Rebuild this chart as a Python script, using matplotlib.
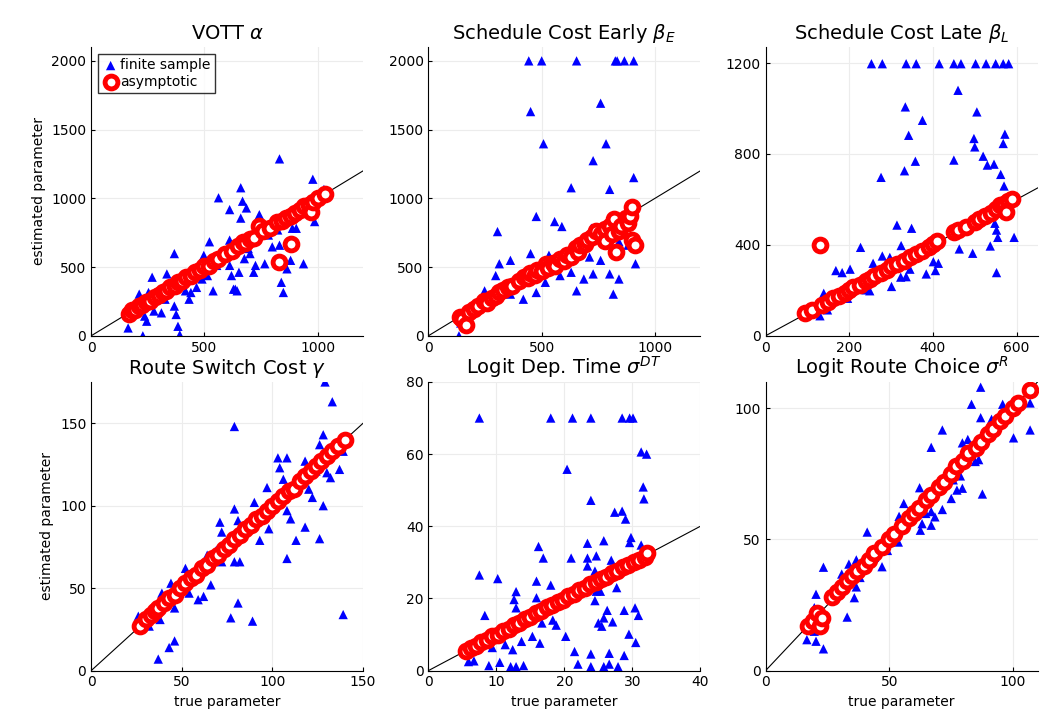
import numpy as np
import matplotlib.pyplot as plt

# ---- VOTT alpha ----
a_fx = [163, 228, 212, 269, 253, 236, 245, 277, 310, 334, 326, 367, 367, 375, 383, 391, 416, 432, 440, 465,
        489, 497, 513, 522, 538, 554, 562, 611, 611, 611, 619, 628, 636, 644, 652, 660, 660, 668, 676, 685,
        693, 701, 717, 725, 742, 750, 766, 782, 799, 823, 831, 831, 839, 848, 864, 880, 888, 905, 929, 937,
        962, 978, 986, 1027]
a_fy = [57, 0, 303, 426, 315, 143, 106, 180, 167, 450, 266, 598, 216, 155, 69, 7, 327, 266, 315, 352,
        413, 585, 438, 684, 327, 512, 1004, 512, 696, 918, 438, 339, 339, 327, 462, 1077, 856, 979, 561, 930,
        635, 598, 462, 512, 881, 807, 524, 733, 647, 770, 1287, 659, 389, 315, 487, 549, 782, 782, 905, 524,
        893, 1139, 831, 1065]
a_ax = [165, 180, 195, 210, 225, 240, 260, 280, 300, 315, 330, 350, 370, 385, 400, 420, 440, 460, 480, 500,
        520, 540, 560, 590, 620, 650, 668, 680, 700, 720, 742, 760, 790, 820, 830, 840, 860, 880, 880, 900,
        920, 940, 960, 970, 980, 1000, 1030]
a_ay = [160, 185, 190, 215, 225, 245, 255, 285, 295, 320, 325, 355, 365, 390, 395, 425, 435, 465, 475, 505,
        510, 545, 555, 595, 615, 655, 684, 675, 705, 715, 800, 765, 785, 825, 540, 835, 855, 870, 670, 895,
        915, 945, 950, 900, 975, 1000, 1030]

# ---- Schedule cost early beta_E ----
e_fx = [135, 143, 248, 297, 305, 313, 362, 362, 419, 443, 451, 451, 459, 476, 476, 500, 508, 516, 532, 557,
        581, 589, 613, 630, 630, 654, 654, 686, 711, 719, 727, 727, 760, 760, 784, 800, 800, 816, 825, 841,
        841, 865, 881, 906, 906, 914, 906, 833]
e_fy = [0, 93, 327, 438, 758, 524, 549, 303, 266, 2000, 1631, 598, 413, 315, 868, 2000, 1397, 389, 586, 831,
        438, 795, 549, 1077, 462, 2000, 327, 413, 573, 782, 1274, 450, 1692, 549, 1397, 1065, 450, 303, 2000, 413,
        684, 2000, 659, 2000, 1151, 524, 893, 2000]
e_ax = [140, 150, 165, 180, 200, 220, 245, 260, 280, 300, 310, 330, 350, 370, 400, 420, 440, 450, 470, 480,
        500, 520, 530, 550, 560, 580, 600, 610, 630, 650, 660, 670, 690, 700, 720, 740, 760, 780, 780, 800,
        810, 820, 830, 840, 850, 870, 880, 890, 900, 900, 910]
e_ay = [140, 120, 80, 170, 195, 215, 250, 240, 275, 290, 320, 330, 355, 365, 395, 430, 420, 455, 440, 480,
        470, 520, 490, 530, 505, 560, 545, 590, 570, 640, 610, 660, 670, 700, 720, 760, 740, 780, 690, 800,
        740, 850, 610, 760, 800, 860, 820, 870, 940, 700, 660]

# ---- Schedule cost late beta_L ----
l_fx = [253, 279, 336, 360, 415, 450, 467, 502, 527, 550, 568, 581, 460, 334, 505, 375, 342, 498, 572, 568,
        500, 520, 358, 450, 530, 546, 332, 276, 562, 570, 314, 349, 548, 552, 555, 594, 227, 324, 537, 463,
        495, 279, 297, 257, 401, 413, 168, 183, 202, 345, 406, 552, 336, 384, 323, 276, 301, 240, 249, 196,
        139, 148, 130, 100, 104]
l_fy = [1197, 1197, 1197, 1197, 1197, 1197, 1197, 1197, 1197, 1197, 1197, 1197, 1080, 1007, 985, 948, 882, 868, 887, 846,
        831, 790, 768, 773, 751, 755, 726, 697, 710, 659, 487, 473, 495, 465, 433, 433, 389, 397, 395, 382,
        363, 351, 345, 319, 326, 319, 287, 278, 293, 293, 287, 278, 260, 272, 258, 263, 217, 202, 198, 165,
        187, 114, 88, 121, 100]
l_ax = [95, 110, 130, 135, 150, 160, 175, 190, 200, 210, 225, 240, 250, 260, 275, 290, 300, 315, 330, 345,
        360, 375, 390, 400, 410, 450, 460, 480, 500, 510, 525, 540, 550, 560, 570, 580, 590, 575]
l_ay = [100, 115, 400, 135, 150, 165, 175, 190, 200, 215, 225, 240, 250, 265, 275, 290, 305, 315, 330, 345,
        360, 375, 390, 405, 415, 455, 465, 480, 500, 515, 525, 540, 560, 575, 580, 595, 600, 545]

# ---- Route switch cost gamma ----
g_fx = [26, 32, 37, 38, 39, 43, 44, 46, 46, 52, 54, 56, 59, 62, 64, 66, 69, 71, 72, 72,
        77, 79, 79, 79, 81, 82, 81, 89, 90, 93, 97, 98, 103, 104, 106, 108, 108, 108, 110, 113,
        118, 118, 120, 122, 126, 126, 128, 128, 129, 130, 132, 133, 137, 139, 139, 124]
g_fy = [33, 27, 7, 31, 47, 14, 53, 18, 38, 62, 47, 58, 43, 45, 70, 52, 73, 90, 84, 66,
        32, 148, 98, 66, 91, 66, 41, 30, 102, 79, 111, 86, 129, 123, 116, 129, 97, 68, 92, 79,
        127, 87, 110, 105, 137, 80, 143, 100, 175, 120, 117, 163, 122, 133, 34, 121]
g_ax = [27, 30, 33, 35, 37, 40, 43, 46, 49, 52, 55, 58, 61, 64, 67, 70, 73, 76, 79, 82,
        85, 88, 91, 94, 97, 100, 103, 106, 109, 112, 115, 118, 121, 124, 127, 130, 133, 136, 140]
g_ay = [27, 31, 34, 36, 38, 41, 44, 46, 50, 53, 56, 58, 62, 64, 68, 70, 74, 76, 80, 82,
        86, 88, 92, 94, 97, 100, 103, 106, 109, 110, 115, 118, 121, 124, 127, 130, 133, 136, 140]

# ---- Logit dep. time sigma^DT ----
d_fx = [7.5, 18, 21.2, 23.9, 28.5, 29.6, 30.1, 31.3, 32.1, 20.4, 31.6, 31.7, 23.9, 27.4, 28.5, 29, 23.4, 25.8, 29.8, 29.6,
        31.3, 16.2, 16.9, 21, 23.4, 24.7, 23.4, 24.5, 26.9, 7.5, 10.2, 15.9, 18, 12.9, 15.9, 12.6, 24.7, 25.3, 27.7, 24.5,
        12.9, 8.3, 26.3, 28.8, 30.4, 30.9, 25.8, 25, 27.1, 25.5, 18.3, 18.8, 16.7, 20.2, 15.3, 16.4, 13.7, 11.3, 12.4, 9.4,
        7, 5.9, 6.7, 8.9, 10.5, 12.1, 12.9, 14, 21.5, 22, 23.9, 23.9, 25.8, 26.6, 26.6, 27.9, 28.8, 29.5, 30.5]
d_fy = [70, 70, 70, 70, 70, 70, 70, 60.6, 60, 55.8, 50.9, 47.6, 47.2, 43.9, 44.2, 42, 35.3, 36, 36.9, 35.5,
        34.8, 34.4, 31.2, 31.2, 31.2, 31.8, 29, 27.6, 30.6, 26.5, 25.5, 24.8, 23.7, 21.9, 20.2, 19.7, 22, 22, 23, 19.4,
        17.4, 15.3, 16.7, 16.7, 17.4, 15.3, 14.6, 13.2, 13.5, 12.3, 14, 12.6, 13.2, 9.5, 9.5, 7.6, 8.1, 7.2, 5.8, 6.4,
        8.1, 2.5, 2.7, 1.4, 2.3, 1.1, 1.1, 1.4, 5.3, 1.8, 4.6, 1.1, 1.1, 4.8, 1.8, 1.1, 4.2, 10.1, 7.8]
d_ax = [5.5, 6.2, 7, 7.8, 8.6, 9.4, 10.2, 11, 11.8, 12.6, 13.4, 14.2, 15, 15.8, 16.6, 17.4, 18.2, 19, 19.8, 20.6,
        21.4, 22.2, 23, 23.8, 24.6, 25.4, 26.2, 27, 27.8, 28.6, 29.4, 30.2, 31, 31.8, 32.2]
d_ay = [5.5, 6.4, 6.8, 7.9, 8.4, 9.5, 10.0, 11.1, 11.6, 12.7, 13.3, 14.3, 14.9, 15.9, 16.5, 17.5, 18.1, 19.1, 19.7, 20.8,
        21.3, 22.3, 22.8, 23.9, 24.5, 25.5, 26.0, 27.0, 27.7, 28.7, 29.2, 30.2, 30.7, 31.6, 32.5]

# ---- Logit route choice sigma^R ----
r_fx = [16.7, 20.4, 23.4, 19.7, 19.7, 20.4, 23.4, 33, 30.8, 33.7, 36.7, 36.7, 35.9, 38.2, 41.1, 44.1, 47.1, 49.3, 53.7, 54,
        55.9, 62.3, 63.3, 64.8, 67, 67, 68.5, 71.5, 75.1, 77.4, 79.6, 87.7, 71.5, 67, 79.6, 81.8, 84.8, 86.2, 83.3, 87,
        87, 91.4, 95.9, 100.3, 107, 107, 78.8, 75.9, 62.6]
r_fy = [11.8, 11.2, 8.3, 15, 24, 29.1, 39.4, 20.4, 36.8, 40.6, 42.2, 31.9, 27.8, 35.5, 52.8, 43.2, 39.6, 45.8, 49, 58.8,
        63.7, 69.7, 56, 59.9, 55.4, 60.6, 58.6, 61.4, 65.6, 68.8, 69.5, 67.3, 91.7, 85.1, 86.8, 88.1, 79.7, 80.4, 101.5, 108,
        96.4, 95.8, 101.5, 88.7, 102, 91.7, 74.2, 72.7, 53.5]
r_ax = [17, 19, 21, 22, 23, 27, 29, 31, 33, 35, 37, 40, 42, 44, 47, 50, 52, 55, 58, 60,
        62, 65, 67, 70, 72, 75, 77, 80, 82, 85, 87, 90, 92, 95, 97, 100, 102, 107]
r_ay = [17, 19, 22, 17, 20, 28, 30, 32, 34, 36, 38, 40, 42, 45, 47, 50, 52, 55, 58, 60,
        62, 65, 67, 70, 72, 75, 78, 80, 83, 85, 87, 90, 92, 95, 97, 100, 102, 107]

panels = [
    ("VOTT $\\alpha$", a_fx, a_fy, a_ax, a_ay, (0, 1200), (0, 2100), [0, 500, 1000], [0, 500, 1000, 1500, 2000]),
    ("Schedule Cost Early $\\beta_E$", e_fx, e_fy, e_ax, e_ay, (0, 1200), (0, 2100), [0, 500, 1000], [0, 500, 1000, 1500, 2000]),
    ("Schedule Cost Late $\\beta_L$", l_fx, l_fy, l_ax, l_ay, (0, 650), (0, 1270), [0, 200, 400, 600], [0, 400, 800, 1200]),
    ("Route Switch Cost $\\gamma$", g_fx, g_fy, g_ax, g_ay, (0, 150), (0, 175), [0, 50, 100, 150], [0, 50, 100, 150]),
    ("Logit Dep. Time $\\sigma^{DT}$", d_fx, d_fy, d_ax, d_ay, (0, 40), (0, 80), [0, 10, 20, 30, 40], [0, 20, 40, 60, 80]),
    ("Logit Route Choice $\\sigma^{R}$", r_fx, r_fy, r_ax, r_ay, (0, 110), (0, 110), [0, 50, 100], [0, 50, 100]),
]

fig, axes = plt.subplots(2, 3, figsize=(10.48, 7.25), dpi=100)
plt.subplots_adjust(left=0.087, right=0.99, bottom=0.075, top=0.935, wspace=0.24, hspace=0.16)

for i, (ax, (title, fx, fy, ax_x, ax_y, xl, yl, xt, yt)) in enumerate(zip(axes.flat, panels)):
    m = max(xl[1], yl[1])
    ax.plot([0, m], [0, m], color='black', linewidth=0.8, zorder=1)
    ax.scatter(fx, fy, marker='^', s=45, color='blue', edgecolors='none', zorder=2, label='finite sample')
    ax.scatter(ax_x, ax_y, marker='o', s=85, facecolors='white', edgecolors='red', linewidths=3.5, zorder=3,
               label='asymptotic')
    ax.set_xlim(xl)
    ax.set_ylim(yl)
    ax.set_xticks(xt)
    ax.set_yticks(yt)
    ax.set_title(title, fontsize=14)
    ax.grid(True, color='#ececec', linewidth=0.8)
    ax.set_axisbelow(True)
    for s in ['top', 'right']:
        ax.spines[s].set_visible(False)
    ax.tick_params(labelsize=10, direction='in', length=3)
    if i % 3 == 0:
        ax.set_ylabel('estimated parameter', fontsize=10)
    if i >= 3:
        ax.set_xlabel('true parameter', fontsize=10)
    if i == 0:
        ax.legend(loc='upper left', fontsize=10, fancybox=False, edgecolor='black',
                  handletextpad=0.1, borderpad=0.3, labelspacing=0.2, handlelength=1.2)

fig.savefig('out.png', dpi=100)
